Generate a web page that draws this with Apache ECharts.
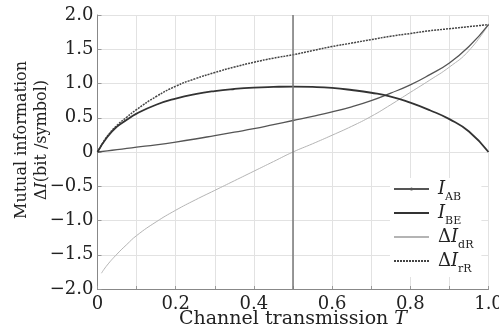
<!DOCTYPE html>
<html>
<head>
<meta charset="utf-8">
<script src="https://cdn.jsdelivr.net/npm/echarts@6/dist/echarts.min.js"></script>
<style>
  html, body { margin: 0; padding: 0; background: #fff; }
  #main { width: 499px; height: 335px; }
</style>
</head>
<body>
<div id="main"></div>
<script>
// channel transmission T
var tGrid = [0, 0.025, 0.05, 0.075, 0.1, 0.15, 0.2, 0.25, 0.3, 0.35, 0.4, 0.45, 0.5,
             0.55, 0.6, 0.65, 0.7, 0.75, 0.8, 0.85, 0.9, 0.95, 1.0];
var iAB = [0, 0.017, 0.034, 0.052, 0.07, 0.105, 0.145, 0.19, 0.24, 0.29, 0.34, 0.40, 0.46,
           0.52, 0.585, 0.66, 0.75, 0.86, 0.98, 1.13, 1.30, 1.54, 1.86];
var iBE = [0, 0.22, 0.37, 0.47, 0.56, 0.69, 0.78, 0.845, 0.89, 0.92, 0.94, 0.95, 0.955,
           0.95, 0.935, 0.905, 0.865, 0.81, 0.72, 0.61, 0.48, 0.30, 0];
var dIrR = [0, 0.23, 0.39, 0.51, 0.62, 0.81, 0.96, 1.07, 1.16, 1.24, 1.31, 1.37, 1.42,
            1.48, 1.54, 1.59, 1.64, 1.69, 1.73, 1.77, 1.80, 1.83, 1.86];
// the dR curve starts a bit right of 0
var tDR = [0.01, 0.025, 0.05, 0.075, 0.1, 0.15, 0.2, 0.25, 0.3, 0.35, 0.4, 0.45, 0.5,
           0.55, 0.6, 0.65, 0.7, 0.75, 0.8, 0.85, 0.9, 0.95, 1.0];
var dIdR = [-1.77, -1.65, -1.49, -1.35, -1.22, -1.02, -0.85, -0.70, -0.56, -0.42, -0.28, -0.14, 0,
            0.12, 0.245, 0.375, 0.52, 0.69, 0.87, 1.05, 1.24, 1.48, 1.86];
var names = ['I_AB', 'I_BE', 'dI_dR', 'dI_rR'];
var legendText = {
  'I_AB': '{I|I}{s|AB}',
  'I_BE': '{I|I}{s|BE}',
  'dI_dR': '{D|Δ}{I|I}{s|dR}',
  'dI_rR': '{D|Δ}{I|I}{s|rR}'
};

function pairs(xs, ys) {
  return xs.map(function (x, i) { return [x, ys[i]]; });
}

var serif = 'DejaVu Serif';
var myChart = echarts.init(document.getElementById('main'));

option = {
  backgroundColor: '#fff',
  animation: false,
  grid: { left: 97.5, right: 10.5, top: 15, bottom: 46, outerBoundsMode: 'none', containLabel: false },
  legend: {
    data: [
      { name: 'I_AB' },
      { name: 'I_BE', itemStyle: { opacity: 0 } },
      { name: 'dI_dR', itemStyle: { opacity: 0 } },
      { name: 'dI_rR', itemStyle: { opacity: 0 } }
    ],
    orient: 'vertical',
    left: 390,
    top: 178,
    padding: [2, 8, 2, 3],
    itemGap: 1,
    itemWidth: 35,
    itemHeight: 4,
    backgroundColor: '#fff',
    formatter: function (n) { return legendText[n]; },
    textStyle: {
      color: '#222',
      padding: [0, 0, 0, 4],
      rich: {
        I: { fontFamily: serif, fontStyle: 'italic', fontSize: 18, lineHeight: 18, verticalAlign: 'top', color: '#222' },
        D: { fontFamily: serif, fontSize: 18, lineHeight: 18, verticalAlign: 'top', color: '#222' },
        s: { fontFamily: serif, fontSize: 11, lineHeight: 11, padding: [12, 0, 0, 0], verticalAlign: 'top', color: '#222' }
      }
    }
  },
  xAxis: {
    type: 'value',
    min: 0,
    max: 1,
    interval: 0.1,
    name: 'Channel transmission {i|T}',
    nameLocation: 'middle',
    nameGap: 21,
    nameMoveOverlap: false,
    nameTextStyle: {
      fontFamily: serif, fontSize: 19, color: '#222',
      rich: { i: { fontFamily: serif, fontStyle: 'italic', fontSize: 19, color: '#222' } }
    },
    axisLine: { onZero: false, lineStyle: { color: '#888', width: 1 } },
    axisTick: { inside: true, length: 3, lineStyle: { color: '#999' } },
    axisLabel: {
      margin: 6,
      fontFamily: serif, fontSize: 18, color: '#222',
      formatter: function (v) {
        var k = Math.round(v * 10);
        if (k % 2) return '';
        return k === 0 ? '0' : v.toFixed(1);
      }
    },
    splitLine: { show: true, lineStyle: { color: '#e2e2e2', width: 1 } }
  },
  yAxis: {
    type: 'value',
    min: -2,
    max: 2,
    interval: 0.5,
    name: '{r|Mutual information}\n{r|Δ}{i|I}{r|(bit /symbol)}',
    nameLocation: 'middle',
    nameRotate: 90,
    nameGap: 46,
    nameMoveOverlap: false,
    nameTextStyle: {
      padding: [0, 0, 0, 24],
      rich: {
        r: { fontFamily: serif, fontSize: 16, lineHeight: 20, color: '#222' },
        i: { fontFamily: serif, fontStyle: 'italic', fontSize: 16, lineHeight: 20, color: '#222' }
      }
    },
    axisLine: { show: true, onZero: false, lineStyle: { color: '#888', width: 1 } },
    axisTick: { show: true, inside: true, length: 4, lineStyle: { color: '#999' } },
    axisLabel: {
      margin: 4,
      fontFamily: serif, fontSize: 18, color: '#222',
      formatter: function (v) {
        if (v === 0) return '0';
        return v.toFixed(1).replace('-', '\u2212');
      }
    },
    splitLine: { show: true, lineStyle: { color: '#e2e2e2', width: 1 } }
  },
  series: [
    {
      name: 'I_AB',
      type: 'line',
      smooth: true,
      symbol: 'circle',
      symbolSize: 3,
      showSymbol: false,
      itemStyle: { color: '#555' },
      lineStyle: { color: '#555', width: 1.3 },
      data: pairs(tGrid, iAB),
      markLine: {
        silent: true,
        symbol: 'none',
        label: { show: false },
        lineStyle: { color: '#777', width: 1.5, type: 'solid' },
        data: [{ xAxis: 0.5 }]
      },
      z: 3
    },
    {
      name: 'I_BE',
      type: 'line',
      smooth: true,
      symbol: 'none',
      itemStyle: { color: '#333' },
      lineStyle: { color: '#333', width: 1.8 },
      data: pairs(tGrid, iBE),
      z: 4
    },
    {
      name: 'dI_dR',
      type: 'line',
      smooth: true,
      symbol: 'none',
      itemStyle: { color: '#b4b4b4' },
      lineStyle: { color: '#b4b4b4', width: 1 },
      data: pairs(tDR, dIdR),
      z: 2
    },
    {
      name: 'dI_rR',
      type: 'line',
      smooth: true,
      symbol: 'none',
      itemStyle: { color: '#444' },
      lineStyle: { color: '#444', width: 1.5, type: [2, 1] },
      data: pairs(tGrid, dIrR),
      z: 3
    }
  ]
};

myChart.setOption(option);
</script>
</body>
</html>
